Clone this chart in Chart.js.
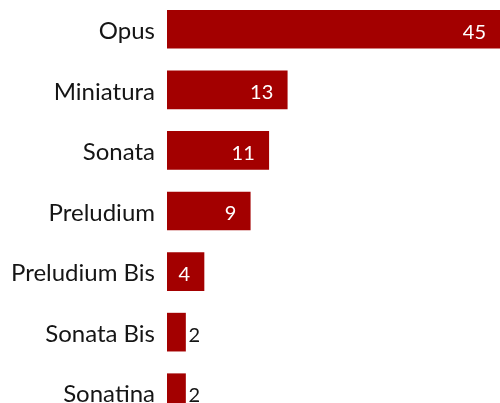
<!DOCTYPE html>
<html>
<head>
<meta charset="utf-8">
<script src="https://cdn.jsdelivr.net/npm/chart.js@4.4.1/dist/chart.umd.min.js"></script>
<style>
  html, body { margin: 0; padding: 0; background: #fff; overflow: hidden; }
  #c { position: absolute; left: 0; top: -1px; }
</style>
</head>
<body>
<canvas id="c" width="500" height="424"></canvas>
<script>
const categories = ['Opus', 'Miniatura', 'Sonata', 'Preludium', 'Preludium Bis', 'Sonata Bis', 'Sonatina'];
const counts = [45, 13, 11, 9, 4, 2, 2];
const axisMax = 36;

const barColor = '#a30000';
const textColor = '#151515';

// Writes each count on its bar: white inside when it fits, dark just past the end otherwise.
const valueLabels = {
  id: 'valueLabels',
  afterDatasetsDraw(chart) {
    const { ctx, chartArea } = chart;
    const meta = chart.getDatasetMeta(0);
    ctx.save();
    ctx.font = '20px Lato';
    ctx.textBaseline = 'middle';
    meta.data.forEach((bar, i) => {
      const text = String(counts[i]);
      const end = Math.min(bar.x, chartArea.right);
      const width = end - bar.base;
      const tw = ctx.measureText(text).width;
      if (width > tw + 12) {
        ctx.fillStyle = '#ffffff';
        ctx.textAlign = 'right';
        ctx.fillText(text, end - 14, bar.y + 3);
      } else {
        ctx.fillStyle = textColor;
        ctx.textAlign = 'left';
        ctx.fillText(text, end + 3, bar.y + 3);
      }
    });
    ctx.restore();
  }
};

new Chart(document.getElementById('c'), {
  type: 'bar',
  data: {
    labels: categories,
    datasets: [{
      data: counts,
      backgroundColor: barColor,
      borderWidth: 0,
      barThickness: 38
    }]
  },
  options: {
    indexAxis: 'y',
    responsive: false,
    animation: false,
    layout: { padding: 0 },
    plugins: {
      legend: { display: false },
      tooltip: { enabled: false }
    },
    scales: {
      x: {
        display: false,
        min: 0,
        max: axisMax
      },
      y: {
        grid: { display: false, drawTicks: false },
        border: { display: false },
        ticks: {
          color: textColor,
          font: { family: 'Lato', size: 24 },
          padding: 12,
          labelOffset: 2
        },
        afterFit(scale) {
          scale.width = 167;
          scale.paddingTop = 0;
          scale.paddingBottom = 0;
        }
      }
    }
  },
  plugins: [valueLabels]
});
</script>
</body>
</html>
